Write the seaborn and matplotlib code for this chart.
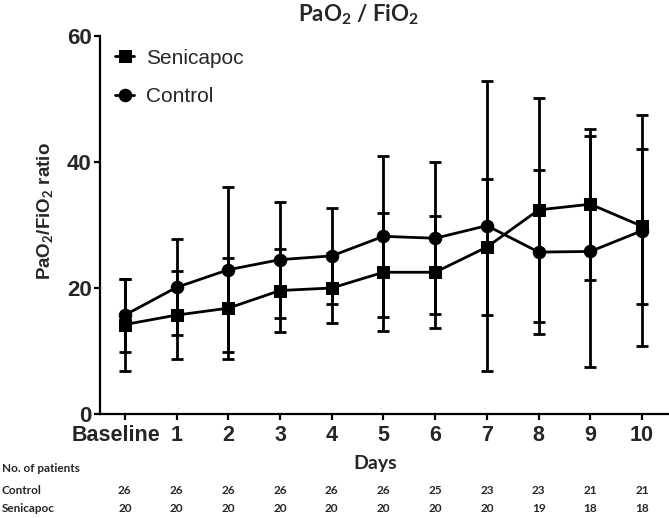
import numpy as np
import pandas as pd
import matplotlib
matplotlib.use("Agg")
import matplotlib.pyplot as plt
import matplotlib.transforms as mtransforms
import seaborn as sns

# values (mean and SD)
day_labels = ["Baseline", "1", "2", "3", "4", "5", "6", "7", "8", "9", "10"]
control_mean = [15.7, 20.1, 22.9, 24.5, 25.1, 28.2, 27.9, 29.9, 25.7, 25.8, 29.1]
control_sd = [5.8, 7.6, 13.1, 9.2, 7.6, 12.8, 12.1, 23.0, 13.0, 18.4, 18.3]
senicapoc_mean = [14.2, 15.7, 16.8, 19.6, 20.0, 22.5, 22.5, 26.5, 32.4, 33.3, 29.8]
senicapoc_sd = [7.3, 7.0, 8.0, 6.6, 5.6, 9.4, 8.9, 10.8, 17.8, 12.0, 12.3]
control_n = [26, 26, 26, 26, 26, 26, 25, 23, 23, 21, 21]
senicapoc_n = [20, 20, 20, 20, 20, 20, 20, 20, 19, 18, 18]

days = np.arange(len(day_labels))
df = pd.DataFrame({
    "day": np.concatenate([days, days]),
    "ratio": senicapoc_mean + control_mean,
    "group": ["Senicapoc"] * len(days) + ["Control"] * len(days),
})

sns.set_style("ticks")
narrow = ["Liberation Sans Narrow", "Liberation Sans", "DejaVu Sans"]
calib = ["Lato", "DejaVu Sans"]
plt.rcParams["font.family"] = narrow
plt.rcParams["mathtext.fontset"] = "custom"
plt.rcParams["mathtext.bf"] = "Lato:bold"
plt.rcParams["mathtext.rm"] = "Lato"

W, H = 669, 518
fig = plt.figure(figsize=(W / 100, H / 100), dpi=100)
ax = fig.add_axes([100 / W, 104 / H, 569 / W, 378 / H])

sns.lineplot(data=df, x="day", y="ratio", hue="group", style="group",
             hue_order=["Senicapoc", "Control"], style_order=["Senicapoc", "Control"],
             palette=["black", "black"], markers={"Senicapoc": "s", "Control": "o"},
             dashes=False, markersize=9, markeredgecolor="black", linewidth=2,
             ax=ax, zorder=3)

ax.errorbar(days, senicapoc_mean, yerr=senicapoc_sd, fmt="none", ecolor="black",
            elinewidth=2, capsize=4.5, capthick=2, zorder=2)
ax.errorbar(days, control_mean, yerr=control_sd, fmt="none", ecolor="black",
            elinewidth=2, capsize=4.5, capthick=2, zorder=2)

ax.set_xlim(-0.48, 10.52)
ax.set_ylim(0, 60)
ax.set_yticks([0, 20, 40, 60])
ax.set_xticks(days)
ax.set_xticklabels(day_labels)
ax.set_xlabel("")
ax.set_ylabel("")
for s in ["top", "right"]:
    ax.spines[s].set_visible(False)
for s in ["left", "bottom"]:
    ax.spines[s].set_linewidth(1.6)
    ax.spines[s].set_color("black")
ax.tick_params(axis="both", width=1.6, length=4, color="black")
ax.tick_params(axis="y", labelsize=16, pad=2)
ax.tick_params(axis="x", labelsize=15.5, pad=4)
for lab in ax.get_xticklabels() + ax.get_yticklabels():
    lab.set_fontweight("bold")
# "Baseline" sits a little left of its tick, as in the original
first = ax.get_xticklabels()[0]
first.set_transform(first.get_transform() +
                    mtransforms.ScaledTranslation(-0.09, 0, fig.dpi_scale_trans))

leg = ax.legend(loc="upper left", bbox_to_anchor=(0.005, 1.0), frameon=False,
                fontsize=15, handlelength=0.9, handletextpad=0.55,
                labelspacing=0.95, borderaxespad=0.2)
for t in leg.get_texts():
    t.set_family(["Liberation Sans", "DejaVu Sans"])

fig.text(358 / W, 1 - 15 / H, r"PaO$_\mathbf{2}$ / FiO$_\mathbf{2}$",
         family=calib, fontweight="bold", fontsize=16, ha="center", va="center")
fig.text(46 / W, 1 - 211 / H, r"PaO$_\mathbf{2}$/FiO$_\mathbf{2}$ ratio",
         family=narrow, fontweight="bold", fontsize=13.5, rotation=90,
         ha="center", va="center")
fig.text(375 / W, 1 - 464 / H, "Days", family=calib, fontweight="bold",
         fontsize=14, ha="center", va="center")

# patient counts below the axis
fig.text(2 / W, 1 - 469 / H, "No. of patients", family=calib, fontweight="bold",
         fontsize=8.5, ha="left", va="center")
fig.text(2 / W, 1 - 491 / H, "Control", family=calib, fontweight="bold",
         fontsize=8.5, ha="left", va="center")
fig.text(2 / W, 1 - 509 / H, "Senicapoc", family=calib, fontweight="bold",
         fontsize=8.5, ha="left", va="center")
trans = mtransforms.blended_transform_factory(ax.transData, fig.transFigure)
for d, c, s in zip(days, control_n, senicapoc_n):
    ax.text(d, 1 - 491 / H, str(c), transform=trans, family=calib,
            fontweight="bold", fontsize=8.5, ha="center", va="center")
    ax.text(d, 1 - 509 / H, str(s), transform=trans, family=calib,
            fontweight="bold", fontsize=8.5, ha="center", va="center")

fig.savefig("out.png", dpi=100)
